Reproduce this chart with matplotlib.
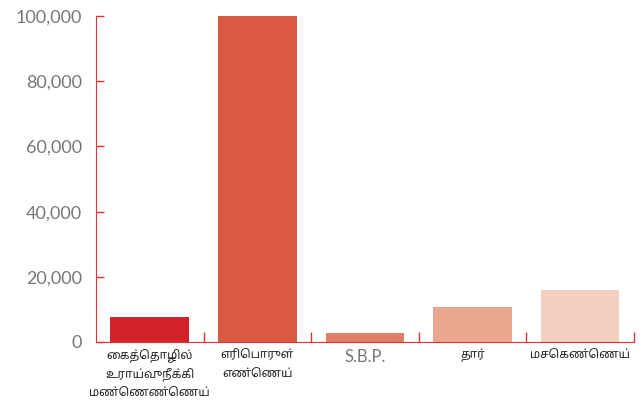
import matplotlib
matplotlib.use("Agg")
import matplotlib.pyplot as plt
from matplotlib import font_manager
from matplotlib.ticker import FuncFormatter, FixedLocator

# Chart data
categories = [
    "கைத்தொழில்\nஉராய்வுநீக்கி\nமண்ணெண்ணெய்",
    "எரிபொருள்\nஎண்ணெய்",
    "S.B.P.",
    "தார்",
    "மசகெண்ணெய்",
]
values = [7700, 100000, 2800, 10700, 16000]
bar_colors = ["#d2232a", "#db5a42", "#e07e67", "#eaa68e", "#f4cfc0"]
y_ticks = [0, 20000, 40000, 60000, 80000, 100000]


def find_tamil_font():
    # look for an installed font that has Tamil glyphs, prefer Noto / Lohit
    try:
        from fontTools.ttLib import TTFont
    except ImportError:
        return None
    found = []
    for entry in font_manager.fontManager.ttflist:
        try:
            tt = TTFont(entry.fname, fontNumber=0, lazy=True)
            cmap = tt.getBestCmap()
            if cmap and 0x0B95 in cmap and 0x0BC8 in cmap:
                found.append(entry.name)
        except Exception:
            continue
    for pref in ["Noto Sans Tamil", "Noto Sans Tamil UI", "Lohit Tamil", "FreeSans"]:
        if pref in found:
            return pref
    return found[0] if found else None


def visual_order(s):
    # matplotlib does no shaping, so put Tamil prefix vowel signs in front
    pre = {"\u0BC6", "\u0BC7", "\u0BC8"}
    split = {"\u0BCA": ("\u0BC6", "\u0BBE"),
             "\u0BCB": ("\u0BC7", "\u0BBE"),
             "\u0BCC": ("\u0BC6", "\u0BD7")}
    out = []
    for ch in s:
        if ch in pre and out:
            base = out.pop()
            out += [ch, base]
        elif ch in split and out:
            base = out.pop()
            a, b = split[ch]
            out += [a, base, b]
        else:
            out.append(ch)
    return "".join(out)


tamil = find_tamil_font()
label_family = [tamil, "DejaVu Sans"] if tamil else ["DejaVu Sans"]

AXIS_RED = "#d9333b"

fig = plt.figure(figsize=(6.44, 4.04), dpi=100)
ax = fig.add_axes([0.149, 0.1535, 0.835, 0.8065])

x = list(range(len(categories)))
ax.bar(x, values, width=0.73, color=bar_colors, zorder=2)

ax.set_xlim(-0.5, len(categories) - 0.5)
ax.set_ylim(0, 100000)

for side in ["top", "right"]:
    ax.spines[side].set_visible(False)
ax.spines["left"].set_color(AXIS_RED)
ax.spines["bottom"].set_color(AXIS_RED)

ax.set_yticks(y_ticks)
ax.yaxis.set_major_formatter(FuncFormatter(lambda v, p: f"{int(v):,}"))
ax.tick_params(axis="y", direction="in", length=6, width=1, color=AXIS_RED,
               pad=10, labelsize=13, labelcolor="#777777")
for lab in ax.get_yticklabels():
    lab.set_fontfamily(["Lato", "DejaVu Sans"])

ax.set_xticks(x)
ax.set_xticklabels([visual_order(c) for c in categories],
                   fontfamily=label_family, fontsize=8.5,
                   color="#222222", linespacing=1.55)
ax.tick_params(axis="x", which="major", length=0, pad=5)
ax.xaxis.set_minor_locator(FixedLocator([i + 0.5 for i in x]))
ax.tick_params(axis="x", which="minor", direction="in", length=7, width=1,
               color=AXIS_RED)
# S.B.P. label uses the latin face like the reference
sbp = ax.get_xticklabels()[2]
sbp.set_fontfamily(["Lato", "DejaVu Sans"])
sbp.set_fontsize(12)
sbp.set_color("#777777")

plt.savefig("out.png", dpi=100)
